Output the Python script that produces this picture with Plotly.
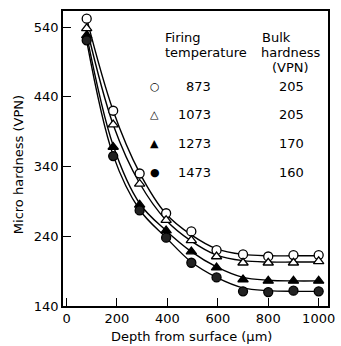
import plotly.graph_objects as go

# ---- data ----
depth = [80, 185, 290, 395, 495, 595, 700, 800, 900, 1000]

temps = ["873", "1073", "1273", "1473"]
bulk = ["205", "205", "170", "160"]

h873 = [552, 420, 330, 273, 247, 220, 214, 211, 213, 213]
h1073 = [538, 400, 315, 263, 234, 211, 202, 202, 202, 204]
h1273 = [528, 368, 285, 248, 218, 195, 178, 176, 176, 176]
h1473 = [521, 355, 277, 238, 202, 181, 161, 160, 162, 161]

# fitted curves
f873 = [552, 420, 331, 272, 242, 222, 214, 212, 212, 212]
f1073 = [539, 400, 316, 263, 233, 213, 205, 203, 203, 203]
f1273 = [528, 370, 287, 248, 218, 196, 181, 177, 176, 176]
f1473 = [520, 356, 278, 238, 203, 181, 166, 162, 161, 161]

yticks = [140, 240, 340, 440, 540]
xticks = [0, 200, 400, 600, 800, 1000]

FONT = "DejaVu Sans"
series = [
    (h873, f873, "circle-open", "white"),
    (h1073, f1073, "triangle-up-open", "white"),
    (h1273, f1273, "triangle-up", "black"),
    (h1473, f1473, "circle", "#222"),
]

fig = go.Figure()
for h, f, sym, fill in series:
    fig.add_trace(go.Scatter(x=depth, y=f, mode="lines",
                             line=dict(color="black", width=1.4, shape="spline", smoothing=1.0),
                             showlegend=False, hoverinfo="skip"))
for h, f, sym, fill in series:
    base = sym.replace("-open", "")
    fig.add_trace(go.Scatter(x=depth, y=h, mode="markers",
                             marker=dict(symbol=base, size=9, color=fill,
                                         line=dict(color="black", width=1.3)),
                             showlegend=False))

L, R, T, B = 63, 335, 11, 306
def px(x):
    return (x - L) / (R - L)
def py(y):
    return (B - y) / (B - T)

ann = []
def txt(x, y, s, xa="center", size=13):
    ann.append(dict(x=px(x), y=py(y), xref="paper", yref="paper", text=s, showarrow=False,
                    xanchor=xa, yanchor="middle", font=dict(family=FONT, size=size, color="black")))

txt(166, 37, "Firing", "left")
txt(166, 53, "temperature", "left")
txt(265, 37, "Bulk", "left")
txt(264, 53, "hardness", "left")
txt(296, 68, "(VPN)")
syms = ["○", "△", "▲", "●"]
rows = [86, 114, 143, 172]
for s, t, b, y in zip(syms, temps, bulk, rows):
    txt(157, y, s, size=11)
    txt(217, y, t, "right")
    txt(298, y, b)

txt(17, 165, "Micro hardness (VPN)")
ann[-1]["textangle"] = -90
txt(195, 336, "Depth from surface (μm)")

fig.update_layout(
    width=341, height=346,
    margin=dict(l=L, r=341 - R, t=T, b=346 - B),
    paper_bgcolor="white", plot_bgcolor="white",
    annotations=ann,
    font=dict(family=FONT, size=13, color="black"),
)
fig.update_xaxes(range=[-14, 1037], tickvals=xticks, ticks="inside", ticklen=8, tickwidth=1.3,
                 tickcolor="black", showline=True, linecolor="black", linewidth=1.5, mirror=True,
                 showgrid=False, zeroline=False, tickfont=dict(size=13, family=FONT))
fig.update_yaxes(range=[140, 563], tickvals=yticks, ticks="inside", ticklen=8, tickwidth=1.3,
                 tickcolor="black", showline=True, linecolor="black", linewidth=1.5, mirror=True,
                 showgrid=False, zeroline=False, tickfont=dict(size=13, family=FONT))

fig.write_html("out.html", config={"displayModeBar": False},
               post_script="document.body.style.margin='0';document.body.style.overflow='hidden';")
